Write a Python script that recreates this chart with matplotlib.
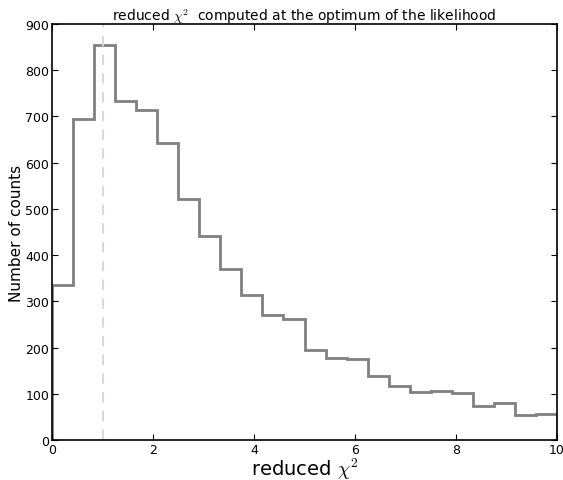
import numpy as np
import matplotlib
matplotlib.use("Agg")
import matplotlib.pyplot as plt

plt.rcParams['mathtext.fontset'] = 'cm'

bin_edges = np.linspace(0, 10, 25)
counts = [336, 694, 855, 734, 714, 643, 522, 441, 370, 313, 270, 261,
          195, 178, 175, 138, 116, 103, 105, 101, 74, 79, 55, 57]
ref_x = 1.0

fig = plt.figure(figsize=(5.63, 4.81), dpi=100)
ax = fig.add_axes([52/563, 1-441/481, (557-52)/563, (441-25)/481])

ax.axvline(ref_x, color='0.85', linestyle='--', linewidth=1.5, dashes=(5, 4))
ax.stairs(counts, bin_edges, color='0.5', linewidth=2, baseline=0)

ax.set_xlim(0, 10)
ax.set_ylim(0, 900)
ax.set_xticks(np.arange(0, 11, 2))
ax.set_yticks(np.arange(0, 901, 100))
ax.tick_params(direction='in', top=True, right=True, labelsize=9, length=4, pad=2)
for s in ax.spines.values():
    s.set_linewidth(1.2)

ax.set_title(r"reduced $\chi^2$  computed at the optimum of the likelihood", fontsize=10, pad=3)
ax.set_ylabel("Number of counts", fontsize=11, labelpad=1)
ax.set_xlabel(r"reduced $\chi^2$", fontsize=14, labelpad=0)

fig.savefig("out.png", dpi=100)
